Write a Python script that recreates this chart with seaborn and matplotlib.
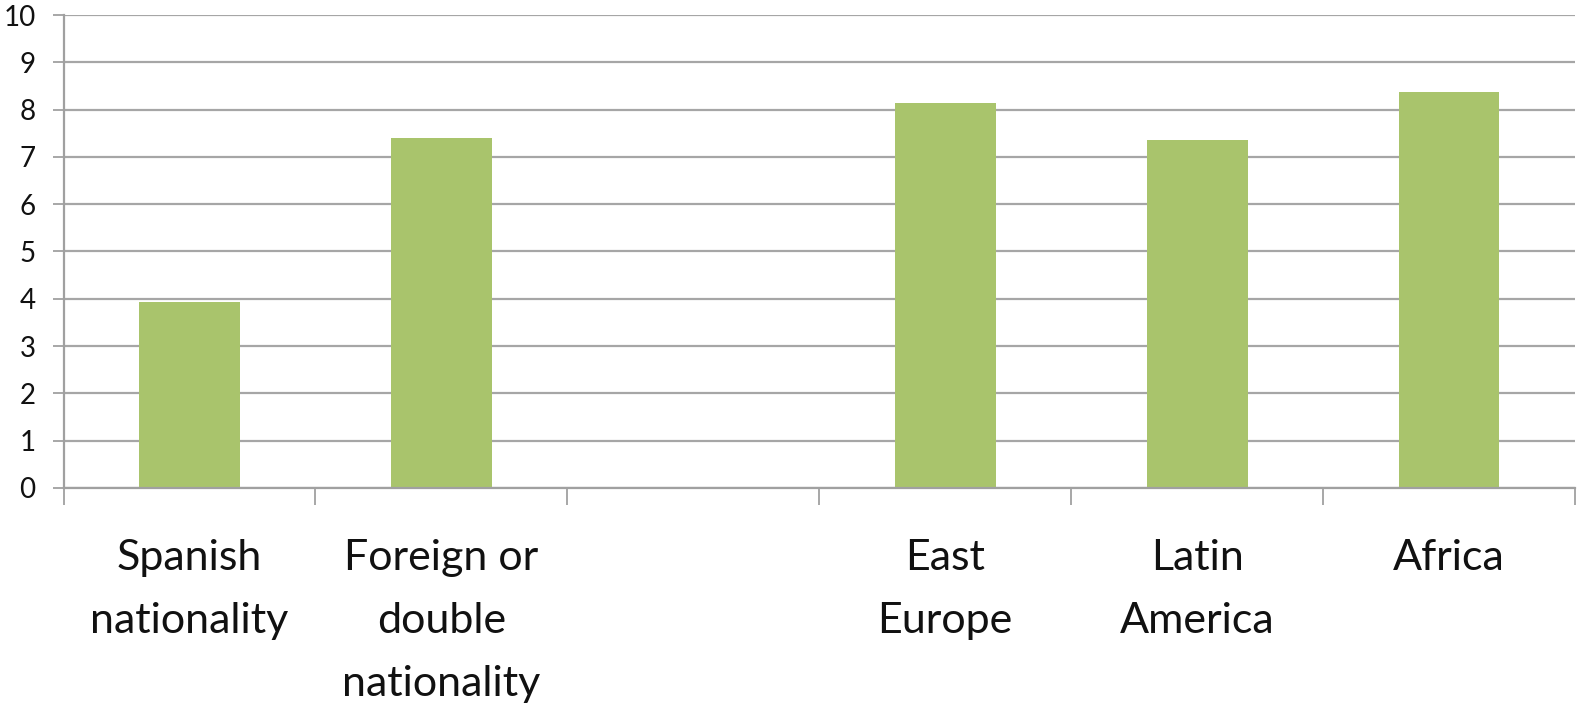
import matplotlib
matplotlib.use("Agg")
import matplotlib.pyplot as plt
import seaborn as sns
import numpy as np
import pandas as pd

categories = ["Spanish\nnationality", "Foreign or\ndouble\nnationality", " ", "East\nEurope", "Latin\nAmerica", "Africa"]
values = [3.94, 7.40, np.nan, 8.15, 7.35, 8.37]
yticks = list(range(0, 11))

sns.set_theme(style="white")
plt.rcParams['font.family'] = ['Lato', 'DejaVu Sans']

fig = plt.figure(figsize=(15.77, 7.12), dpi=100)
ax = fig.add_axes([63.5/1577, 1 - 488/712, (1575-63.5)/1577, (488-15)/712])

df = pd.DataFrame({"cat": categories, "val": values})
sns.barplot(data=df, x="cat", y="val", order=categories, color="#A9C46C",
            saturation=1, width=0.4, ax=ax, edgecolor="none")

ax.set_ylim(0, 10)
ax.set_xlim(-0.5, len(categories) - 0.5)
ax.set_yticks(yticks)
ax.set_yticklabels([str(t) for t in yticks], fontsize=20, color="#111111")
ax.yaxis.grid(True, color="#a6a6a6", linewidth=1.6)
ax.set_axisbelow(True)
ax.set_xlabel("")
ax.set_ylabel("")

ax.set_xticks(range(len(categories)))
ax.set_xticklabels(categories, fontsize=31, color="#111111", linespacing=1.8, va="top")
ax.tick_params(axis="x", which="major", length=0, pad=37)
ax.set_xticks(np.arange(-0.5, len(categories)), minor=True)
ax.tick_params(axis="x", which="minor", length=12, width=1.3, color="#a0a0a0", bottom=True)
ax.tick_params(axis="y", which="major", length=8, width=1.3, color="#a0a0a0", left=True, pad=12)

for s in ["top", "right"]:
    ax.spines[s].set_visible(False)
for s in ["left", "bottom"]:
    ax.spines[s].set_color("#a0a0a0")
    ax.spines[s].set_linewidth(1.6)

fig.savefig("out.png", dpi=100)
